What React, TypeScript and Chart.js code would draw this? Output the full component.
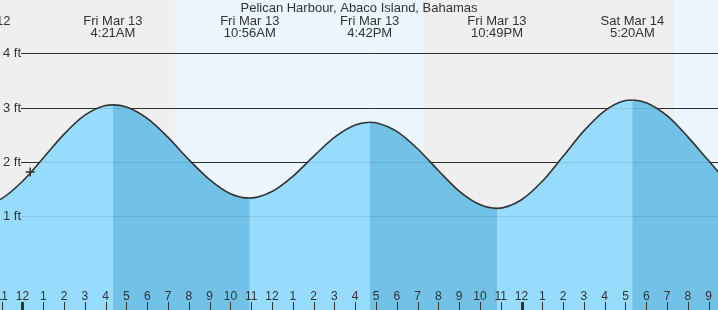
import React, { useEffect, useRef } from "react";
import { Chart, registerables } from "chart.js";

Chart.register(...registerables);

// ---------- data ----------
const TITLE = "Pelican Harbour, Abaco Island, Bahamas";

// hours since Fri Mar 13 00:00 and tide height (ft)
const tideHours = [-2.18, -1, 0, 1, 2, 3, 4, 4.35, 5, 6, 7, 8, 9, 10, 10.93, 12, 13, 14, 15, 16, 16.7, 17, 18, 19, 20, 21, 22, 22.82, 24, 25, 26, 27, 28, 29, 29.33, 30, 31, 32, 33, 34, 35.8];
const tideFeet = [1.17, 1.32, 1.64, 2.07, 2.51, 2.86, 3.04, 3.05, 3.01, 2.8, 2.45, 2.04, 1.67, 1.41, 1.33, 1.45, 1.73, 2.1, 2.45, 2.68, 2.73, 2.72, 2.56, 2.24, 1.84, 1.46, 1.21, 1.14, 1.3, 1.64, 2.1, 2.57, 2.94, 3.13, 3.14, 3.09, 2.85, 2.46, 2.02, 1.61, 1.28];

const extremeHours = [-2.18, 4.35, 10.93, 16.7, 22.82, 29.33, 35.8];
const extremeKinds = ["low", "high", "low", "high", "low", "high", "low"];
const extremeDates = ["Thu Mar 12", "Fri Mar 13", "Fri Mar 13", "Fri Mar 13", "Fri Mar 13", "Sat Mar 14", "Sat Mar 14"];
const extremeTimes = ["9:49PM", "4:21AM", "10:56AM", "4:42PM", "10:49PM", "5:20AM", "11:48AM"];

const sunriseHours = [7.35, 31.35];
const sunsetHours = [19.27, 43.3];

const nowHour = 0.37;
const nowFeet = 1.81;

const hourTickHours = [-1, 0, 1, 2, 3, 4, 5, 6, 7, 8, 9, 10, 11, 12, 13, 14, 15, 16, 17, 18, 19, 20, 21, 22, 23, 24, 25, 26, 27, 28, 29, 30, 31, 32, 33];
const hourTickLabels = ["11", "12", "1", "2", "3", "4", "5", "6", "7", "8", "9", "10", "11", "12", "1", "2", "3", "4", "5", "6", "7", "8", "9", "10", "11", "12", "1", "2", "3", "4", "5", "6", "7", "8", "9"];
const midnightHours = [0, 24];

const yTickValues = [1, 2, 3, 4];
const yTickLabels = ["1 ft", "2 ft", "3 ft", "4 ft"];

// ---------- style ----------
const X_MIN = -1.082;
const X_MAX = 33.45;
const Y_MIN = -0.735;
const Y_MAX = 4.985;
const NIGHT = "#efefef";
const DAY = "#ecf6fe";
const LIGHT = "#97dcfc";
const DARK = "#72c1e6";
const INK = "#333333";
const FONT = "Liberation Sans, Arial, sans-serif";

function isFalling(x: number): boolean {
  let kind = "low";
  for (let i = 0; i < extremeHours.length; i++) {
    if (extremeHours[i] <= x + 1e-9) kind = extremeKinds[i];
  }
  return kind === "high";
}

const decor = {
  id: "tideDecor",
  beforeDatasetsDraw(chart: any) {
    const { ctx, chartArea: a, scales } = chart;
    const x = scales.x;
    const y = scales.y;
    ctx.save();
    ctx.fillStyle = NIGHT;
    ctx.fillRect(a.left, a.top, a.right - a.left, a.bottom - a.top);
    ctx.fillStyle = DAY;
    sunriseHours.forEach((sr, i) => {
      const x0 = x.getPixelForValue(sr);
      const x1 = x.getPixelForValue(sunsetHours[i]);
      ctx.fillRect(x0, a.top, x1 - x0, a.bottom - a.top);
    });
    ctx.strokeStyle = INK;
    ctx.lineWidth = 1;
    yTickValues.forEach((v) => {
      const py = Math.round(y.getPixelForValue(v)) + 0.5;
      ctx.beginPath();
      ctx.moveTo(21, py);
      ctx.lineTo(a.right, py);
      ctx.stroke();
    });
    ctx.restore();
  },
  afterDatasetsDraw(chart: any) {
    const { ctx, chartArea: a, scales } = chart;
    const x = scales.x;
    const y = scales.y;
    ctx.save();
    // faint grid over water
    ctx.strokeStyle = "rgba(0,0,0,0.09)";
    ctx.lineWidth = 1;
    yTickValues.forEach((v) => {
      const py = Math.round(y.getPixelForValue(v)) + 0.5;
      ctx.beginPath();
      ctx.moveTo(21, py);
      ctx.lineTo(a.right, py);
      ctx.stroke();
    });
    // y labels
    ctx.fillStyle = INK;
    ctx.font = `13px ${FONT}`;
    ctx.textAlign = "left";
    ctx.textBaseline = "alphabetic";
    yTickValues.forEach((v, i) => {
      const py = Math.round(y.getPixelForValue(v));
      ctx.fillText(yTickLabels[i], 3, py + 4);
    });
    // hour ticks & labels
    ctx.font = `12px ${FONT}`;
    ctx.textAlign = "center";
    hourTickHours.forEach((h, i) => {
      const px = x.getPixelForValue(h);
      const isMid = midnightHours.indexOf(h) >= 0;
      ctx.fillStyle = INK;
      if (isMid) {
        ctx.fillRect(Math.round(px) - 1, 302, 3, 8);
      } else {
        ctx.fillRect(Math.round(px), 302, 1, 8);
      }
      ctx.fillText(hourTickLabels[i], px, 300);
    });
    // extreme labels
    ctx.font = `13px ${FONT}`;
    extremeHours.forEach((h, i) => {
      const px = x.getPixelForValue(h);
      ctx.fillText(extremeDates[i], px, 25);
      ctx.fillText(extremeTimes[i], px, 37);
    });
    // title
    ctx.fillText(TITLE, (a.left + a.right) / 2, 12);
    ctx.restore();
  },
};

export default function App() {
  const ref = useRef<HTMLCanvasElement>(null);
  useEffect(() => {
    const canvas = ref.current as HTMLCanvasElement;
    const tidePoints = tideHours.map((h, i) => ({ x: h, y: tideFeet[i] }));
    const chart = new Chart(canvas, {
      type: "line",
      data: {
        datasets: [
          {
            type: "scatter",
            data: [{ x: nowHour, y: nowFeet }],
            pointStyle: "cross",
            pointRadius: 4.5,
            pointBorderColor: INK,
            pointBackgroundColor: INK,
            pointBorderWidth: 1.5,
            showLine: false,
            order: 0,
          } as any,
          {
            type: "line",
            data: tidePoints,
            borderColor: INK,
            borderWidth: 1.6,
            pointRadius: 0,
            fill: "start",
            backgroundColor: LIGHT,
            cubicInterpolationMode: "monotone",
            segment: {
              backgroundColor: (c: any) => (isFalling(c.p0.parsed.x) ? DARK : LIGHT),
            },
            order: 1,
          } as any,
          {
            // underlay of the same tide curve, hides seams between fill segments
            type: "line",
            data: tidePoints,
            borderWidth: 0,
            borderColor: "rgba(0,0,0,0)",
            pointRadius: 0,
            fill: "start",
            backgroundColor: LIGHT,
            cubicInterpolationMode: "monotone",
            order: 2,
          } as any,
        ],
      },
      options: {
        animation: false,
        responsive: false,
        devicePixelRatio: 1,
        events: [],
        layout: { padding: 0, autoPadding: false },
        plugins: {
          legend: { display: false },
          title: { display: false },
          tooltip: { enabled: false },
        },
        scales: {
          x: { type: "linear", display: false, min: X_MIN, max: X_MAX },
          y: { type: "linear", display: false, min: Y_MIN, max: Y_MAX },
        },
      },
      plugins: [decor],
    });
    return () => chart.destroy();
  }, []);
  return (
    <div style={{ position: "fixed", left: 0, top: 0, width: 718, height: 310 }}>
      <canvas ref={ref} width={718} height={310} style={{ display: "block" }} />
    </div>
  );
}
